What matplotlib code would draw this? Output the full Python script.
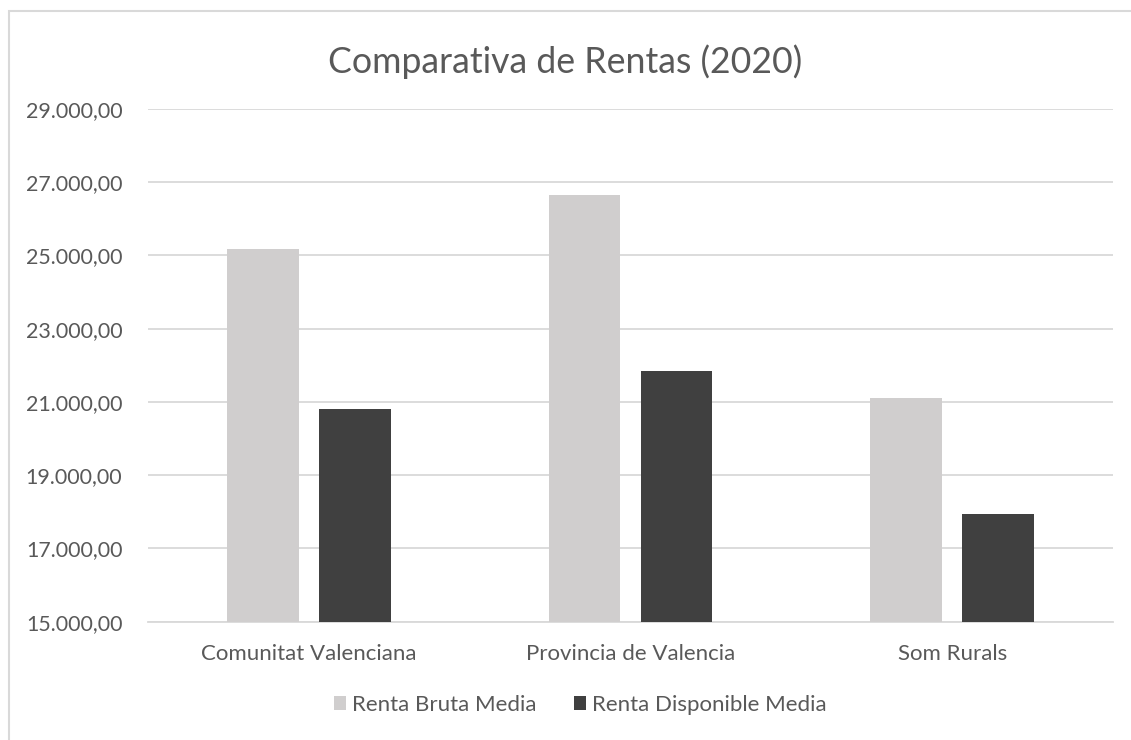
import numpy as np
import matplotlib
matplotlib.use("Agg")
import matplotlib.pyplot as plt
from matplotlib.patches import Rectangle
from matplotlib.ticker import FuncFormatter

# data
categorias = ["Comunitat Valenciana", "Provincia de Valencia", "Som Rurals"]
renta_bruta = [25183, 26656, 21100]
renta_disponible = [20801, 21835, 17944]
series = ["Renta Bruta Media", "Renta Disponible Media"]

c_bruta = "#D0CECE"
c_disp = "#404040"
c_text = "#595959"
c_grid = "#D9D9D9"

plt.rcParams['font.family'] = ['Lato', 'DejaVu Sans']

fig = plt.figure(figsize=(11.31, 7.40), dpi=100)
ax = fig.add_axes([148/1131, 1 - 621.7/740, (1113 - 148)/1131, (621.7 - 109)/740])

x = np.arange(len(categorias))
w = 0.223
off = 0.1426
ax.bar(x - off, renta_bruta, w, color=c_bruta, label=series[0], zorder=3)
ax.bar(x + off, renta_disponible, w, color=c_disp, label=series[1], zorder=3)

ax.set_xlim(-0.5, 2.5)
ax.set_ylim(15000, 29000)
ax.set_yticks(np.arange(15000, 29001, 2000))

def fmt(v, pos):
    s = "{:,.2f}".format(v)
    return s.replace(",", "X").replace(".", ",").replace("X", ".")

ax.yaxis.set_major_formatter(FuncFormatter(fmt))
ax.set_xticks(x)
ax.set_xticklabels(categorias)
ax.tick_params(axis='both', length=0, colors=c_text)
ax.tick_params(axis='y', pad=18.5, labelsize=15.4)
ax.tick_params(axis='x', pad=16, labelsize=16)
ax.grid(axis='y', color=c_grid, linewidth=1.3, zorder=0)
for s in ["top", "right", "left"]:
    ax.spines[s].set_visible(False)
ax.spines["bottom"].set_color(c_grid)
ax.spines["bottom"].set_linewidth(1.3)

fig.text(0.5, 1 - 62/740, "Comparativa de Rentas (2020)", ha='center', va='center',
         fontsize=25.7, color=c_text)

leg = fig.legend(loc='center', bbox_to_anchor=(580/1131, 1 - 705/740), ncol=2, frameon=False,
                 fontsize=16, handlelength=0.55, handleheight=0.55, handletextpad=0.25,
                 columnspacing=1.7)
for t in leg.get_texts():
    t.set_color(c_text)

# outer chart border (cropped at right and bottom)
fig.patches.append(Rectangle((8.5/1131, -0.05), 1.2, 1 - 11/740 + 0.05, transform=fig.transFigure,
                             fill=False, edgecolor="#D9D9D9", linewidth=1.5))

fig.savefig("out.png", dpi=100, facecolor="white")
